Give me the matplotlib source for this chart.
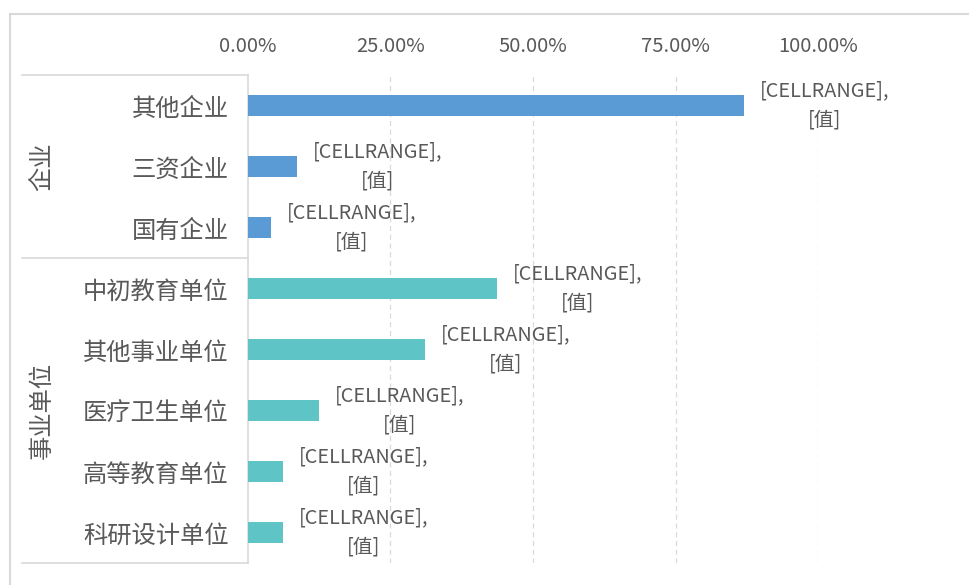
import matplotlib
matplotlib.use('Agg')
import matplotlib.pyplot as plt
from matplotlib.lines import Line2D
from matplotlib.ticker import FuncFormatter

plt.rcParams['font.family'] = ['Noto Sans CJK SC', 'DejaVu Sans']

# data
categories = ['其他企业', '三资企业', '国有企业',
              '中初教育单位', '其他事业单位', '医疗卫生单位', '高等教育单位', '科研设计单位']
values = [0.87, 0.086, 0.04, 0.437, 0.311, 0.125, 0.061, 0.061]
groups = ['企业', '企业', '企业', '事业单位', '事业单位', '事业单位', '事业单位', '事业单位']
group_names = ['企业', '事业单位']
xticks = [0, 0.25, 0.5, 0.75, 1.0]
label_text = '[CELLRANGE],\n[值]'

colors = {'企业': '#5B9BD5', '事业单位': '#5EC4C6'}
text_color = '#595959'
line_color = '#d9d9d9'

fig = plt.figure(figsize=(9.7, 5.85), dpi=100)
ax = fig.add_axes([248 / 970, 1 - 563 / 585, 570 / 970, (563 - 75) / 585])

y = list(range(len(categories)))
bar_colors = [colors[g] for g in groups]
ax.barh(y, values, height=0.36, color=bar_colors, zorder=3)

ax.set_ylim(len(categories) - 0.5, -0.5)
ax.set_xlim(0, 1.0)
ax.set_yticks(y)
ax.set_yticklabels(categories, fontsize=17.5, color=text_color)
ax.set_xticks(xticks)
ax.xaxis.set_major_formatter(FuncFormatter(lambda v, p: f'{v * 100:.2f}%'))
ax.xaxis.tick_top()
ax.tick_params(axis='x', length=0, pad=13, labelsize=14.5, labelcolor=text_color)
ax.tick_params(axis='y', length=0, pad=14)

for s in ['top', 'right', 'bottom']:
    ax.spines[s].set_visible(False)
ax.spines['left'].set_color(line_color)
ax.spines['left'].set_linewidth(1.2)

for xv in xticks[1:]:
    ax.axvline(xv, color=line_color, linestyle=(0, (4, 3)), linewidth=0.9, zorder=1)

for yi, v in zip(y, values):
    ax.annotate(label_text, xy=(v, yi), xytext=(16, 0), textcoords='offset pixels',
                ha='left', va='center', multialignment='center', linespacing=1.5,
                fontsize=14.3, color=text_color, annotation_clip=False)

# group boxes on the category axis
trans = ax.get_yaxis_transform()
x_left = (22 - 248) / 570
bounds = []
start = 0
for gname in group_names:
    n = groups.count(gname)
    bounds.append((start, start + n))
    start += n
for yb in [-0.5] + [b[1] - 0.5 for b in bounds]:
    ax.add_line(Line2D([x_left, 0], [yb, yb], transform=trans, color=line_color,
                       linewidth=1.2, clip_on=False))
for gname, (a, b) in zip(group_names, bounds):
    ax.text((42 - 248) / 570, (a + b - 1) / 2, gname, transform=trans, rotation=90,
            ha='center', va='center', fontsize=17.5, color=text_color)

# outer chart border (partial)
fig.add_artist(Line2D([10 / 970, 1], [1 - 14 / 585, 1 - 14 / 585], color=line_color, linewidth=1.5))
fig.add_artist(Line2D([10 / 970, 10 / 970], [0, 1 - 14 / 585], color=line_color, linewidth=1.5))

fig.savefig('out.png', dpi=100, facecolor='white')
